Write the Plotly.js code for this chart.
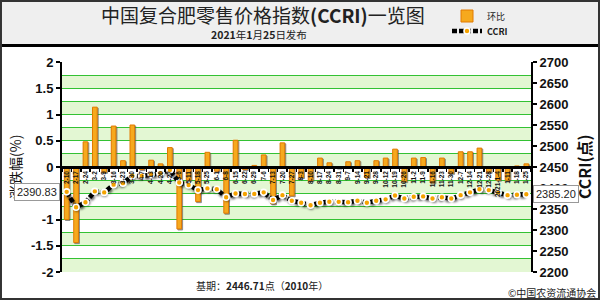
<!DOCTYPE html>
<html><head><meta charset="utf-8">
<script src="https://cdn.plot.ly/plotly-3.0.1.min.js"></script>
<style>
html,body{margin:0;padding:0;background:#fff;}
#chart{width:600px;height:300px;}
.barlayer .point path{filter:drop-shadow(1.5px 1px 0.6px rgba(80,80,80,0.65));}
.scatterlayer .js-line{filter:drop-shadow(1px 2px 1px rgba(0,0,0,0.6));}
</style></head><body><div id="chart"></div>
<script>
// ---- data ----
const dates = ["2-10","2-17","2-24","3-2","3-9","3-16","3-23","3-30","4-7","4-13","4-20","4-27",
  "5-6","5-11","5-18","5-25","6-1","6-8","6-15","6-22","6-29","7-6","7-13","7-20","7-27",
  "8-3","8-10","8-17","8-24","8-31","9-7","9-14","9-21","9-28","10-12","10-19","10-26",
  "11-2","11-9","11-16","11-23","11-30","12-7","12-14","12-21","12-28","2021-1-4","1-11","1-18","1-25"];
const changePct = [-1.0,-1.44,0.48,1.14,-0.1,0.78,0.12,0.8,-0.05,0.13,0.06,0.37,
  -1.18,-0.25,-0.66,0.28,-0.08,-0.88,0.51,-0.05,0.03,0.23,-0.7,0.46,-0.55,
  -0.2,-0.26,0.17,0.08,-0.02,0.1,0.12,-0.2,0.12,0.17,0.34,-0.28,
  0.17,0.18,-0.3,0.17,-0.12,0.29,0.29,0.36,-0.1,-0.25,-0.25,0.02,0.06];
const ccri = [2390.83,2354,2366,2392,2389.5,2408,2411.5,2429,2428.5,2433,2435,2443,
  2413,2407,2395,2399,2397,2378,2387,2385.7,2386,2389.7,2371.4,2383,2369.8,
  2365,2358.8,2365,2367.4,2367,2366,2369.8,2365,2369.8,2373,2382,2375,
  2379,2380,2375,2377.8,2375,2383,2389.7,2397,2395,2389,2383,2384,2385.20];
const leftTickVals = [-2,-1.5,-1,-0.5,0,0.5,1,1.5,2];
const leftTickText = ["-2","-1.5","-1","-0.5","0","0.5","1","1.5","2"];
const rightTickVals = [2200,2250,2300,2350,2400,2450,2500,2550,2600,2650,2700];
const titleText = "中国复合肥零售价格指数<b>(CCRI)</b>一览图";
const subtitleText = "<b>2021</b>年<b>1</b>月<b>25</b>日发布";
const leftAxisTitle = "涨跌幅(%)";
const rightAxisTitle = "<b>CCRI(点)</b>";
const baseText = "基期：<b>2446.71</b>点（<b>2010</b>年）";
const creditText = "©中国农资流通协会";

// ---- figure ----
const FONT = "Liberation Sans, Arial, Noto Sans CJK SC, sans-serif";
const CJK = "Noto Sans CJK SC, Liberation Sans, sans-serif";

const bars = {
  type:'bar', name:'环比', x:dates, y:changePct, yaxis:'y', width:0.5, legend:'legend',
  marker:{color:'#f6a91d', line:{color:'#e27a00', width:1}}
};
const line = {
  type:'scatter', mode:'lines+markers', name:'<b>CCRI</b>', x:dates, y:ccri, yaxis:'y2', legend:'legend2',
  line:{color:'#000', width:4.5, dash:'5px,2px'},
  marker:{symbol:'circle', size:6, color:'#f5a300', line:{color:'#fff', width:1.6}}
};

const shapes = [];
// alternating pale-green bands
for (let v = -2; v < 2; v += 0.5) {
  shapes.push({type:'rect', xref:'paper', x0:0, x1:1, yref:'y', y0:v, y1:v+0.25,
    fillcolor:'#e3f7d3', line:{width:0}, layer:'below'});
}
// header background and separator, outer frame
shapes.push({type:'rect', xref:'paper', yref:'paper', x0:-0.14, x1:1.16, y0:1.079, y1:1.31,
  fillcolor:'#efefef', line:{width:0}, layer:'below'});
shapes.push({type:'line', xref:'paper', yref:'paper', x0:-0.14, x1:1.16, y0:1.079, y1:1.079,
  line:{color:'#000', width:3}});
shapes.push({type:'rect', xref:'paper', yref:'paper', x0:-0.1301, x1:1.1450, y0:-0.1286, y1:1.2905,
  line:{color:'#333', width:2}, fillcolor:'rgba(0,0,0,0)'});

const legendBase = {xref:'container', yref:'container', xanchor:'left', yanchor:'middle',
  bgcolor:'rgba(0,0,0,0)', font:{size:9, family:CJK, color:'#222'}, itemwidth:30,
  tracegroupgap:0, borderwidth:0};

const layout = {
  width:600, height:300,
  margin:{l:62, r:69, t:62, b:28, pad:0, autoexpand:false},
  paper_bgcolor:'#fff', plot_bgcolor:'#fff',
  font:{family:FONT, color:'#111'},
  barmode:'overlay',
  showlegend:true,
  legend:Object.assign({x:447/600, y:1-16/300}, legendBase),
  legend2:Object.assign({x:447/600, y:1-31/300}, legendBase),
  xaxis:{type:'category', anchor:'free', position:0.5, range:[-0.5, dates.length-0.5],
    showline:true, linecolor:'#000', linewidth:2.5, ticks:'outside', tickson:'boundaries',
    ticklen:3, tickwidth:1.5, tickcolor:'#000', tickangle:-90, showgrid:false, zeroline:false,
    tickfont:{size:6.5, weight:'bold', color:'#111'}},
  yaxis:{range:[-2,2], tickmode:'array', tickvals:leftTickVals, ticktext:leftTickText,
    showline:true, linecolor:'#000', linewidth:2, ticks:'outside', ticklen:4, tickwidth:2, tickcolor:'#000',
    showgrid:true, gridcolor:'#33c233', gridwidth:1, zeroline:false,
    minor:{tickmode:'linear', tick0:0, dtick:0.25, showgrid:true, gridcolor:'#33c233', gridwidth:1, ticks:''},
    tickfont:{size:13, weight:'bold', color:'#111'}},
  yaxis2:{overlaying:'y', side:'right', range:[2200,2700], tickmode:'array', tickvals:rightTickVals,
    showline:true, linecolor:'#000', linewidth:2, ticks:'outside', ticklen:4, tickwidth:2, tickcolor:'#000',
    showgrid:false, zeroline:false,
    tickfont:{size:13, weight:'bold', color:'#111'}},
  shapes:shapes,
  annotations:[
    {xref:'paper', yref:'paper', x:0.4286, y:1.224, text:titleText, showarrow:false,
      font:{size:19, family:CJK, color:'#222'}, xanchor:'center', yanchor:'middle'},
    {xref:'paper', yref:'paper', x:0.42, y:1.129, text:subtitleText, showarrow:false,
      font:{size:10.5, family:CJK, color:'#222'}, xanchor:'center', yanchor:'middle'},
    {xref:'paper', yref:'paper', x:(15-62)/469, y:0.5, text:leftAxisTitle, textangle:-90, showarrow:false,
      font:{size:14, family:CJK, color:'#111'}, xanchor:'center', yanchor:'middle'},
    {xref:'paper', yref:'paper', x:(584-62)/469, y:0.5, text:rightAxisTitle, textangle:-90, showarrow:false,
      font:{size:16, family:CJK, color:'#111'}, xanchor:'center', yanchor:'middle'},
    {xref:'paper', yref:'y2', x:0, y:ccri[0], xshift:-2, text:ccri[0].toFixed(2), showarrow:false,
      xanchor:'right', yanchor:'middle', bgcolor:'#fff', bordercolor:'#999', borderwidth:1, borderpad:2,
      font:{size:11, color:'#222'}},
    {xref:'paper', yref:'y2', x:1, y:ccri[ccri.length-1], xshift:2, text:ccri[ccri.length-1].toFixed(2), showarrow:false,
      xanchor:'left', yanchor:'middle', bgcolor:'#fff', bordercolor:'#999', borderwidth:1, borderpad:2,
      font:{size:11, color:'#222'}},
    {xref:'paper', yref:'paper', x:0.4264, y:-0.062, text:baseText, showarrow:false,
      font:{size:10, family:CJK, color:'#222'}, xanchor:'center', yanchor:'middle'},
    {xref:'paper', yref:'paper', x:1.1429, y:-0.097, text:creditText, showarrow:false,
      font:{size:10, family:CJK, color:'#222'}, xanchor:'right', yanchor:'middle'}
  ]
};

Plotly.newPlot('chart', [bars, line], layout, {staticPlot:true, displayModeBar:false});
</script></body></html>
